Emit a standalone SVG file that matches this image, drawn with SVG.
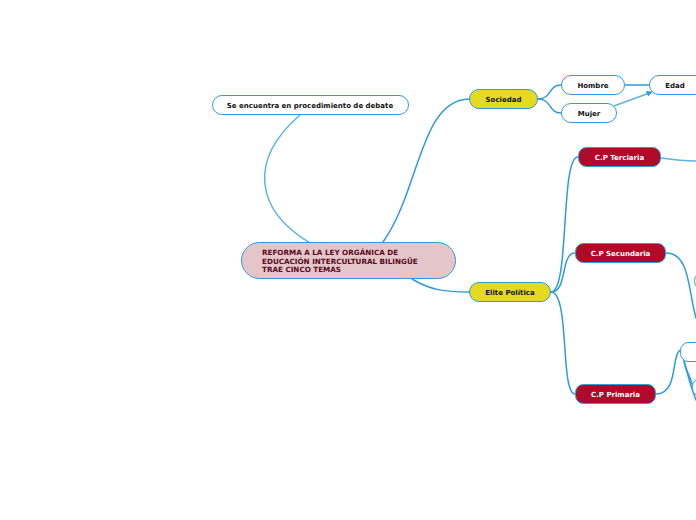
<svg xmlns="http://www.w3.org/2000/svg" width="696" height="520" viewBox="0 0 696 520">
<defs>
<style>
.c{fill:none;stroke:#2d9be0;stroke-width:1.5;stroke-linecap:round}
.cl{fill:none;stroke:#5ab4e8;stroke-width:1.5}
.w{fill:#ffffff;stroke:#2d9be0;stroke-width:1}
.y{fill:#e4da1f;stroke:#2d9be0;stroke-width:1}
.r{fill:#b00a2a;stroke:#2d9be0;stroke-width:1}
.p{fill:#e4c5ca;stroke:#2d9be0;stroke-width:1}
text{font-family:"DejaVu Sans",Verdana,sans-serif;font-weight:bold;font-size:7px}
.t{fill:#111111;text-anchor:middle}
.tw{fill:#ffffff;text-anchor:middle}
.tm{fill:#5a0a20;font-size:7.2px}
</style>
<marker id="ah" viewBox="0 0 10 10" refX="9" refY="5" markerWidth="6" markerHeight="6" orient="auto" markerUnits="userSpaceOnUse"><path d="M0,0 L10,5 L0,10 z" fill="#2d9be0"/></marker>
</defs>
<g id="connectors">
<path class="cl" d="M310,243 C255,210 248,160 300,115"/>
<path class="c" d="M383,242 C420,190 420,100 469,99" stroke-width="2"/>
<path class="c" d="M412,279 C430,290 445,292 469,292"/>
<path class="c" d="M538,99 C552,99 548,85 561,85"/>
<path class="c" d="M538,99 C552,99 548,113 561,113"/>
<path class="c" d="M625,85 L649,85" stroke-width="2"/>
<path class="cl" d="M614,106 L652,92" marker-end="url(#ah)"/>
<path class="c" d="M551,292 C570,292 560,157 578,157"/>
<path class="c" d="M551,292 C568,292 560,253 575,253"/>
<path class="c" d="M551,292 C570,292 560,394 575,394"/>
<path class="cl" d="M661,158 C675,160 685,161 696,161"/>
<path class="c" d="M666,253 C690,253 688,290 696,318"/>
<path class="c" d="M656,394 C680,394 670,350 682,350"/>
<path class="c" d="M684,361 C688,375 690,385 696,400"/>
<path class="c" d="M684,361 C686,372 690,375 692,384"/>
</g>
<g id="node-central">
<rect class="p" x="241.5" y="242.5" width="214" height="36" rx="18"/>
<text class="tm" x="262" y="255">REFORMA A LA LEY ORGÁNICA DE</text>
<text class="tm" x="262" y="263.5">EDUCACIÓN INTERCULTURAL BILINGÜE</text>
<text class="tm" x="262" y="272">TRAE CINCO TEMAS</text>
</g>
<g id="node-debate">
<rect class="w" x="212.5" y="95.5" width="196" height="19" rx="9.5"/>
<text class="t" x="310" y="108">Se encuentra en procedimiento de debate</text>
</g>
<g id="node-sociedad">
<rect class="y" x="469.5" y="89.5" width="68" height="19" rx="9.5"/>
<text class="t" x="503.5" y="102">Sociedad</text>
</g>
<g id="node-hombre">
<rect class="w" x="561.5" y="75.5" width="63" height="19" rx="9.5"/>
<text class="t" x="593" y="88">Hombre</text>
</g>
<g id="node-mujer">
<rect class="w" x="561.5" y="103.5" width="55" height="19" rx="9.5"/>
<text class="t" x="589" y="116">Mujer</text>
</g>
<g id="node-edad">
<rect class="w" x="649.5" y="75.5" width="60" height="19" rx="9.5"/>
<text class="t" x="675" y="88">Edad</text>
</g>
<g id="node-elite">
<rect class="y" x="469.5" y="282.5" width="81" height="19" rx="9.5"/>
<text class="t" x="510" y="295">Elite Política</text>
</g>
<g id="node-terciaria">
<rect class="r" x="578.5" y="147.5" width="82" height="19" rx="8"/>
<text class="tw" x="619.5" y="160">C.P Terciaria</text>
</g>
<g id="node-secundaria">
<rect class="r" x="575.5" y="243.5" width="90" height="19" rx="8"/>
<text class="tw" x="620.5" y="256">C.P Secundaria</text>
</g>
<g id="node-primaria">
<rect class="r" x="575.5" y="384.5" width="80" height="19" rx="8"/>
<text class="tw" x="615.5" y="397">C.P Primaria</text>
</g>
<g id="node-partial1">
<rect class="w" x="694.5" y="272.5" width="40" height="17" rx="8"/>
</g>
<g id="node-partial2">
<rect class="w" x="680.5" y="342.5" width="40" height="19" rx="8"/>
</g>
<g id="node-partial3">
<rect class="w" x="692.5" y="378.5" width="40" height="18" rx="8"/>
</g>
</svg>
